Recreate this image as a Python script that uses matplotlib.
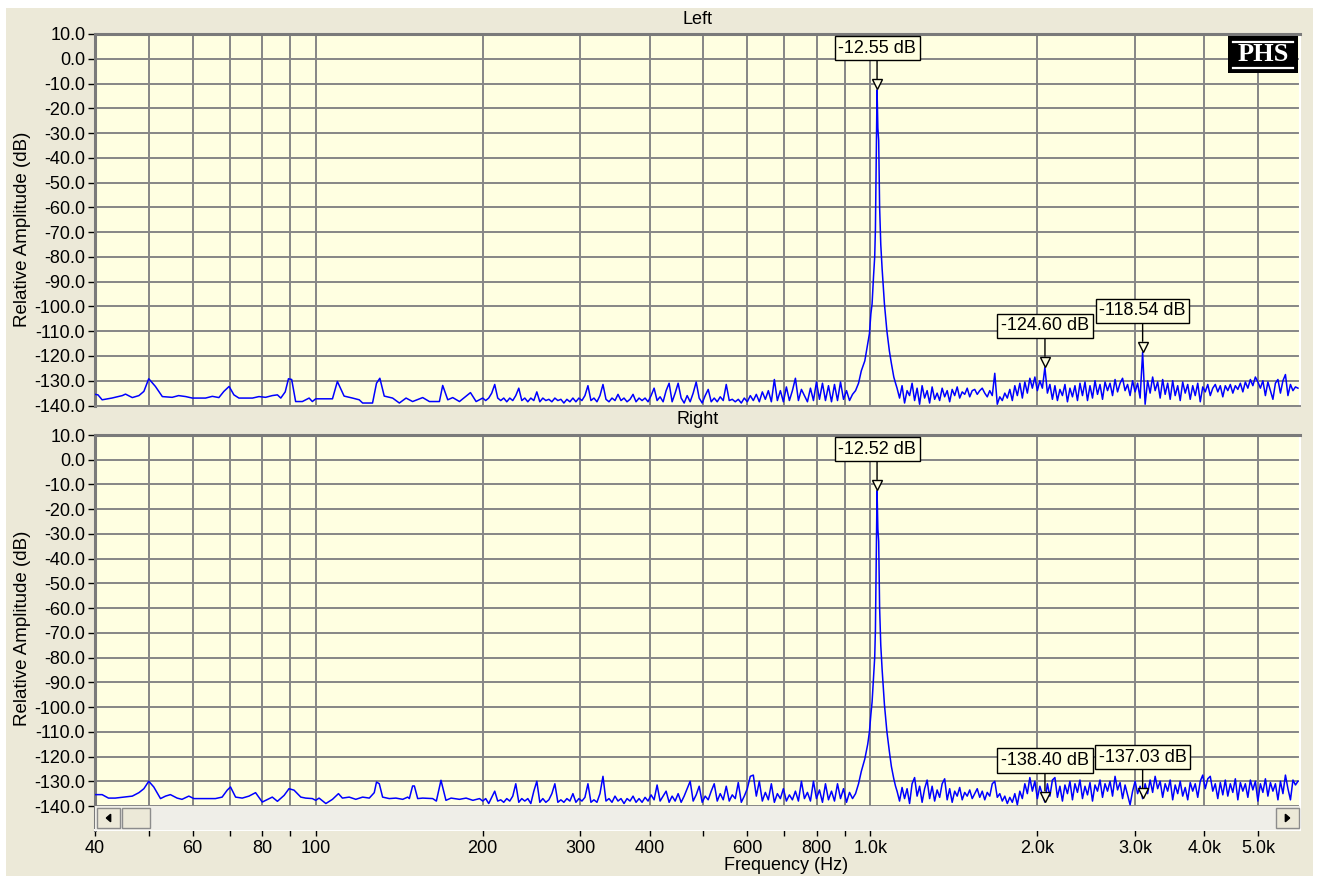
import numpy as np
import matplotlib.pyplot as plt
from matplotlib.patches import Rectangle, Polygon
from matplotlib.lines import Line2D
from matplotlib.ticker import NullLocator
from matplotlib import transforms

plt.rcParams['font.family'] = ['Liberation Sans', 'DejaVu Sans']

# ---- data ----
left_low_hz = [40, 40.5, 41.2, 42.9, 44.8, 45.4, 46.7, 48.0, 49.0, 50.0, 51.4, 52.9, 55.1, 56.6, 58.3,
               59.9, 63.3, 65.1, 66.9, 68.3, 69.8, 71.2, 72.7, 76.9, 79.0, 81.2, 83.5, 85.3, 86.5, 88.1,
               89.3, 90.5, 92.0, 94.6, 97.3, 98.6, 100, 107.2, 109.4, 112.5, 116.5, 119.8, 121.5, 126.6,
               128.7, 130.5, 132.9, 137.6, 141.5, 145.5, 149.5, 155.9, 160.3, 167.1, 169.4, 173.0, 176.6,
               181.6, 186.7, 190.1, 194.6]
left_low_db = [-135.5, -135.7, -137.7, -137, -136, -135.4, -136.8, -136, -134.3, -129.2, -132.3, -136.4,
               -136.7, -136, -136.4, -137, -137, -136.3, -136.8, -134.3, -132.3, -135.7, -137, -137,
               -136.4, -136.7, -136, -135.7, -137, -134.5, -129.2, -129.5, -138.4, -138.4, -137, -138.4,
               -137.3, -137.3, -130.3, -136.2, -137, -137.7, -139, -139, -131, -129, -136.2, -137, -139,
               -137, -138.4, -136.8, -138.4, -138.4, -131.9, -137.7, -136.8, -138.4, -136.2, -134.8, -138.4]

right_low_hz = [40, 41.2, 42.3, 43.5, 46.7, 48.0, 49.0, 50.0, 51.05, 52.5, 53.6, 54.7, 56.25, 57.4, 59.05,
                60.3, 62.4, 65.95, 67.8, 69.25, 70.2, 71.7, 73.7, 75.8, 77.9, 80.1, 83.5, 85.3, 87.7, 89.5,
                91.4, 94.0, 95.9, 98.6, 100, 101.4, 104.3, 107.2, 109.9, 111.7, 114.9, 118.1, 121.5, 124.9,
                127.5, 128.7, 130.2, 132.0, 135.7, 139.5, 143.5, 146.5, 147.5, 149.5, 150.6, 152.7, 155.9,
                162.5, 165, 168.2, 171.7, 175.4, 181.6, 186.7, 192.0, 197.4]
right_low_db = [-135.4, -135.4, -136.8, -136.8, -136, -134.6, -133, -130, -132.3, -137, -136, -135.4,
                -136.8, -137.3, -136, -137, -137, -137, -136.4, -133.6, -132.3, -136.4, -136.8, -136,
                -134.6, -138.4, -136.4, -138.1, -135.7, -133, -133.6, -136.4, -136.8, -137, -137.7,
                -136.8, -139, -137.3, -135, -136.8, -136.4, -137.3, -136.4, -136.8, -134.6, -130.3, -131,
                -136.4, -137, -136.8, -137.3, -136.4, -137, -131.9, -131.9, -137, -136.8, -137, -138,
                -129.6, -137.7, -136.8, -137.3, -136.8, -137.7, -137]

# 200 Hz .. 952 Hz, 126 log-spaced bins
mid_hz = np.geomspace(200, 952, 126)
left_mid_db = [
    -137, -138, -137, -135, -131.5, -137, -138, -137, -138.5, -137,
    -138, -136, -133, -138, -137, -138.5, -137, -138, -134.5, -138.5,
    -137, -138, -137.5, -138.5, -137, -138, -137.5, -139, -137.5, -138.5,
    -137, -138.5, -137, -138, -136, -132, -138, -137, -138.5, -136,
    -131.5, -137.5, -138.5, -137, -138, -135.5, -138, -137, -138.5, -137.5,
    -135.5, -138.5, -137, -138, -137, -138.5, -136, -133, -138, -136.5,
    -138.5, -134, -131, -138.5, -135, -131, -137, -139, -136, -138.5,
    -135, -130.5, -137, -139, -136, -133.5, -138.5, -137, -138.5, -136.5,
    -138, -131.5, -138, -137.5, -138.5, -137.5, -139, -137, -138.5, -136,
    -138, -135.5, -138.5, -134.5, -137.5, -134, -138.5, -129.5, -138, -134,
    -138.5, -132.5, -138, -134, -129, -138, -133.5, -136, -138.5, -133,
    -138, -130.5, -137.5, -131, -138, -132, -138.5, -131.5, -138, -130.5,
    -137.5, -134, -138, -135.5, -134, -131]
right_mid_db = [
    -138, -137, -139, -136.5, -134, -138, -137.5, -138.5, -137, -138,
    -136, -131, -138.5, -137, -138, -137, -139, -134, -130, -138.5,
    -137, -138.5, -137.5, -135, -131, -138.5, -137.5, -138.5, -137, -138,
    -135, -138.5, -137, -138, -136.5, -131, -138.5, -137.5, -138.5, -135,
    -128, -138, -137, -138.5, -136, -138, -137, -139, -137, -138,
    -136, -138.5, -137, -138.5, -136.5, -138, -135.5, -137.5, -131.5, -138,
    -136, -134, -138.5, -136, -138, -135, -138.5, -136, -133, -130,
    -138, -135.5, -132, -138.5, -136, -137.5, -134, -131, -138, -135,
    -137.5, -132, -138, -135.5, -137, -130.5, -138.5, -136, -133, -128,
    -127.5, -136, -130, -138, -134.5, -137.5, -131, -138.5, -135, -137,
    -133, -138, -135.5, -137.5, -134, -138, -130, -137, -134.5, -138,
    -130, -137, -133.5, -138.5, -131, -137.5, -134, -138, -131, -137,
    -133, -138.5, -134.5, -137, -135, -131]

# fundamental skirt
peak_hz = [963, 977, 989, 996, 1002, 1007, 1013, 1018, 1021, 1025, 1028, 1031.5, 1035, 1039, 1044,
           1050, 1060, 1071, 1082, 1091, 1102, 1110]
left_peak_db = [-126, -122, -115, -111, -103, -99, -88, -80, -69, -37, -12.55, -28, -33, -60, -75,
                -85, -99, -110, -118, -123, -128.5, -131]
right_peak_db = [-126, -121, -115, -110, -103, -98, -88, -80, -69, -37, -12.52, -28, -33, -60, -75,
                 -85, -99, -110, -118, -124, -129, -132]

# 1117 Hz .. 5900 Hz, 161 log-spaced bins
high_hz = np.geomspace(1117, 5900, 161)
left_high_db = [
    -133, -137, -132, -139, -134, -136, -131, -138, -133, -139.5,
    -132, -137, -134, -139, -132.5, -137.5, -135, -138, -133, -136.5,
    -134, -138.5, -133.5, -136, -132.5, -137, -134.5, -135.5, -133, -136.5,
    -134, -133.5, -135.5, -134, -133, -135, -136.5, -134, -136, -127,
    -139.5, -136.5, -138, -135, -137, -133.5, -138, -132, -136, -131,
    -137, -130.5, -135, -129, -133, -128.5, -134, -130, -133, -124.6,
    -135, -131.5, -137.5, -132, -138, -133.5, -136, -131.5, -138.5, -133,
    -136.5, -132, -138, -131, -136, -130.5, -138, -132, -137, -130,
    -135.5, -131.5, -137.5, -130.5, -134, -131, -136, -129.5, -134.5, -131,
    -129, -134, -131.5, -136, -130, -134.5, -131, -137, -118.54, -139.5,
    -130, -135, -128.5, -134, -130.5, -137, -129.5, -135.5, -131, -137.5,
    -130, -136, -132, -138, -130.5, -135, -131.5, -137.5, -132, -136,
    -131, -138.5, -132.5, -134.5, -131.5, -136, -133, -131.5, -134.5, -132,
    -136.5, -132, -134, -131.5, -135, -132, -133.5, -131, -134.5, -130.5,
    -133, -129.5, -132, -128.5, -130.5, -133, -130, -136, -130.5, -134,
    -137.5, -131, -129.5, -135, -130, -127.5, -136, -131.5, -134, -132.5,
    -133]
right_high_db = [
    -134, -138, -132.5, -137, -133, -139, -131, -128.5, -136, -132,
    -138.5, -133, -129.5, -137, -132, -138, -133.5, -136.5, -131, -129,
    -137.5, -133, -138.5, -134, -136, -132.5, -137.5, -134.5, -136, -133.5,
    -137, -135, -133, -136.5, -134, -137.5, -134.5, -136, -131, -130,
    -136.5, -135, -138, -136, -139, -136.5, -138.5, -135, -139.5, -134,
    -137, -131, -135, -128.5, -134, -130, -137, -132, -135.5, -138.4,
    -131, -136, -129.5, -128.5, -136.5, -132, -138, -131.5, -135, -130,
    -137.5, -131, -134.5, -129.5, -137, -132, -135.5, -130.5, -138, -131.5,
    -134, -129.5, -136.5, -131, -134, -130, -136, -128, -133.5, -130.5,
    -137, -131.5, -135.5, -139.5, -134, -130, -135, -132, -137.03, -131,
    -135, -129.5, -134.5, -128, -133, -130, -136.5, -131, -134, -129.5,
    -137.5, -131.5, -135, -130, -136, -132.5, -137.5, -130.5, -134, -131,
    -136.5, -130, -127.5, -133, -129, -128, -134, -131, -137, -130.5,
    -135.5, -129.5, -136, -131, -134.5, -129, -137.5, -130.5, -134, -131,
    -136.5, -129.5, -133.5, -130, -138, -131, -134.5, -129, -136, -130.5,
    -134, -131, -137.5, -130, -135, -127.5, -133, -137.5, -129.5, -131.5,
    -130]

marker_hz = [1028, 2064, 3096]
left_markers = [-12.55, -124.60, -118.54]
right_markers = [-12.52, -138.40, -137.03]

tick_hz = [40, 50, 60, 70, 80, 90, 100, 200, 300, 400, 500, 600, 700, 800, 900,
           1000, 2000, 3000, 4000, 5000]
tick_text = ['40', '', '60', '', '80', '', '100', '200', '300', '400', '', '600', '', '800', '',
             '1.0k', '2.0k', '3.0k', '4.0k', '5.0k']
db_ticks = np.arange(-140, 11, 10)

# ---- layout (pixel based) ----
W, H = 1320, 876
BG = '#ECE9D8'
PLOT_BG = '#FFFFE1'
GRID = '#868686'


def fx(px):
    return px / W


def fy(py):
    return 1 - py / H


fig = plt.figure(figsize=(W / 100, H / 100), dpi=100, facecolor='white')
fig.add_artist(Rectangle((fx(6), 0), fx(1313) - fx(6), fy(8), transform=fig.transFigure,
                         facecolor=BG, edgecolor='none', zorder=-10))

panels = [
    dict(title='Left', top=34, bottom=405.5, ymin=-140.0, title_y=19,
         hz=[left_low_hz, mid_hz, peak_hz, high_hz],
         db=[left_low_db, left_mid_db, left_peak_db, left_high_db],
         markers=left_markers, label_y=0.475),
    dict(title='Right', top=435, bottom=830, ymin=-149.7, title_y=419,
         hz=[right_low_hz, mid_hz, peak_hz, high_hz],
         db=[right_low_db, right_mid_db, right_peak_db, right_high_db],
         markers=right_markers, label_y=0.51),
]

for k, p in enumerate(panels):
    ax = fig.add_axes([fx(95), fy(p['bottom']), fx(1300) - fx(95), fy(p['top']) - fy(p['bottom'])])
    ax.set_facecolor(PLOT_BG)
    hz = np.concatenate([np.asarray(a, float) for a in p['hz']])
    db = np.concatenate([np.asarray(a, float) for a in p['db']])
    ax.plot(hz, db, color='#0000FF', lw=1.1, zorder=3)

    ax.set_xscale('log')
    ax.set_xlim(40, 5950)
    ax.set_ylim(p['ymin'], 10)
    ax.set_xticks(tick_hz)
    ax.xaxis.set_minor_locator(NullLocator())
    ax.set_yticks(db_ticks)
    ax.set_yticklabels([f'{v:.1f}' for v in db_ticks], fontsize=13)
    ax.set_axisbelow(True)
    ax.grid(True, color=GRID, lw=1.4)
    ax.tick_params(axis='y', direction='out', length=5, width=1, pad=2, colors='black')
    ax.set_ylabel('Relative Amplitude (dB)', fontsize=13.5)
    ax.yaxis.set_label_coords(-0.053, p['label_y'])

    for side in ['left', 'top']:
        ax.spines[side].set_color('#7A7A7A')
        ax.spines[side].set_linewidth(2.2)
    ax.spines['right'].set_color('#FFFFFF')
    ax.spines['right'].set_linewidth(1.5)
    ax.spines['bottom'].set_color(GRID)
    ax.spines['bottom'].set_linewidth(1.4)

    if k == 0:
        ax.tick_params(axis='x', length=0, labelbottom=False)
    else:
        ax.set_xticklabels(tick_text, fontsize=13)
        ax.tick_params(axis='x', direction='out', length=4, width=1, pad=3)
        ax.spines['bottom'].set_color('#FFFFFF')
        # scrollbar at the foot of the lower chart
        sb = (830 - 806) / (830 - 435)
        bw = 23 / 1205
        ax.add_patch(Rectangle((0, 0), 1, sb, transform=ax.transAxes, facecolor='#EFEEE8',
                               edgecolor='none', zorder=6, clip_on=False))
        for x0, w in [(2 / 1205, bw), (27 / 1205, 28 / 1205), (1181 / 1205, bw)]:
            ax.add_patch(Rectangle((x0, 0.004), w, sb - 0.008, transform=ax.transAxes,
                                   facecolor=BG, edgecolor='#8C8C8C', lw=1, zorder=7, clip_on=False))
        ah, aw = 0.0095, 0.0018
        cy = sb / 2
        cl = 2 / 1205 + bw / 2
        cr = 1181 / 1205 + bw / 2
        ax.add_patch(Polygon([(cl - aw, cy), (cl + aw, cy + ah), (cl + aw, cy - ah)],
                             transform=ax.transAxes, color='black', zorder=8, clip_on=False))
        ax.add_patch(Polygon([(cr + aw, cy), (cr - aw, cy + ah), (cr - aw, cy - ah)],
                             transform=ax.transAxes, color='black', zorder=8, clip_on=False))

    # markers
    tri = transforms.offset_copy(ax.transData, fig=fig, x=0, y=5.5, units='dots')
    for f, v in zip(marker_hz, p['markers']):
        ax.plot([f], [v], marker='v', ms=7.5, mfc=PLOT_BG, mec='black', mew=1,
                transform=tri, zorder=9, clip_on=False)
        ax.annotate(f'{v:.2f} dB', xy=(f, v), xytext=(0, 33), textcoords='offset pixels',
                    ha='center', va='bottom', fontsize=13, zorder=10,
                    bbox=dict(boxstyle='square,pad=0.2', fc=PLOT_BG, ec='black', lw=1),
                    arrowprops=dict(arrowstyle='-', color='black', lw=1, shrinkA=0, shrinkB=8))

    fig.text(fx(698), fy(p['title_y']), p['title'], fontsize=13, ha='center', va='center')

fig.text(fx(786), fy(865), 'Frequency (Hz)', fontsize=13, ha='center', va='center')

# PHS logo in the top right corner
fig.add_artist(Rectangle((fx(1228), fy(73)), fx(1298) - fx(1228), fy(36) - fy(73),
                         transform=fig.transFigure, facecolor='black', edgecolor='none', zorder=20))
fig.text(fx(1263), fy(54.5), 'PHS', color='white', fontsize=19, fontweight='bold',
         family='Liberation Serif', ha='center', va='center', zorder=21)
for yy in (41.5, 67.5):
    fig.add_artist(Line2D([fx(1233), fx(1293)], [fy(yy), fy(yy)], color='white', lw=1.6,
                          transform=fig.transFigure, zorder=21))

fig.savefig('out.png', dpi=100, facecolor=fig.get_facecolor())
